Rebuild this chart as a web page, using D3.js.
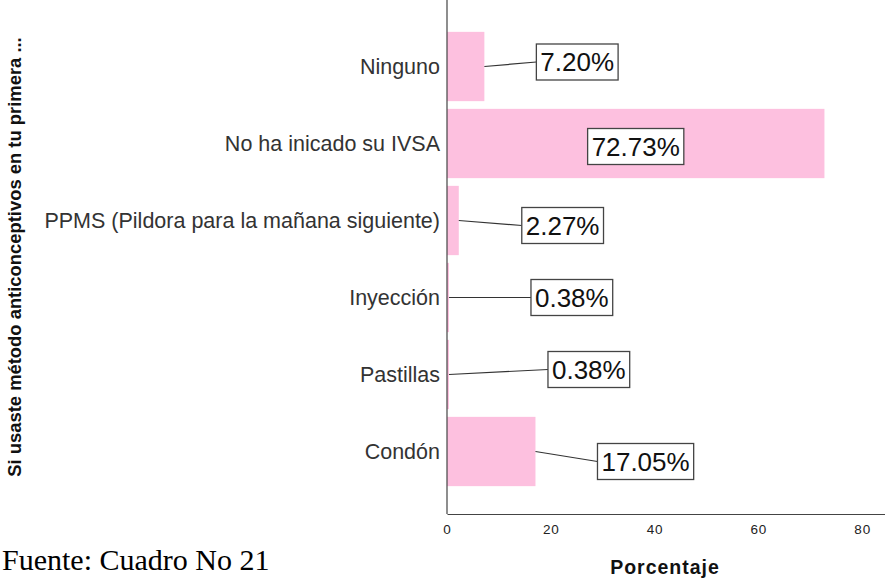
<!DOCTYPE html>
<html>
<head>
<meta charset="utf-8">
<script src="https://cdn.jsdelivr.net/npm/d3@7"></script>
<style>
  html, body { margin: 0; padding: 0; background: #fff; }
  svg { display: block; font-family: "Liberation Sans", Arial, sans-serif; }
</style>
</head>
<body>
<div id="chart"></div>
<script>
// categories and values (percent)
var categories = ['Ninguno', 'No ha inicado su IVSA', 'PPMS (Pildora para la mañana siguiente)', 'Inyección', 'Pastillas', 'Condón'];
var values = [7.20, 72.73, 2.27, 0.38, 0.38, 17.05];
var labels = ['7.20%', '72.73%', '2.27%', '0.38%', '0.38%', '17.05%'];
var xTicks = [0, 20, 40, 60, 80];

// where SPSS dropped each label box: px from bar end, px from band centre
// (null dx = centred inside the bar)
var labelDx = [52, null, 63, 82, 99, 62];
var labelDy = [-4.5, 3, 5, 0, -5, 10];

var width = 885, height = 578;
var axisX = 447, axisY = 514;

var svg = d3.select('#chart').append('svg')
  .attr('width', width)
  .attr('height', height);

var x = d3.scaleLinear().domain([0, 84.4]).range([axisX, width]);
var y = d3.scaleBand().domain(categories).range([28, 490])
  .paddingInner(0.1).paddingOuter(0.05);

// bars
svg.selectAll('rect.bar')
  .data(values)
  .enter()
  .append('rect')
  .attr('class', 'bar')
  .attr('x', x(0))
  .attr('y', function(d, i) { return y(categories[i]); })
  .attr('width', function(d) { return x(d) - x(0); })
  .attr('height', y.bandwidth())
  .attr('fill', '#fdc0df');

// x axis
var xAxis = svg.append('g')
  .attr('transform', 'translate(0,' + axisY + ')')
  .call(d3.axisBottom(x).tickValues(xTicks).tickSize(0).tickPadding(10));
xAxis.select('.domain').attr('stroke', '#444').attr('stroke-width', 1.2);
xAxis.selectAll('text')
  .attr('font-size', 13.5)
  .attr('letter-spacing', 0.8)
  .attr('fill', '#222')
  .attr('font-family', '"Liberation Sans", Arial, sans-serif');

// y axis line
svg.append('line')
  .attr('x1', axisX).attr('x2', axisX)
  .attr('y1', 0).attr('y2', axisY)
  .attr('stroke', '#444')
  .attr('stroke-width', 1.2);

// category labels
svg.selectAll('text.cat')
  .data(categories)
  .enter()
  .append('text')
  .attr('class', 'cat')
  .attr('x', axisX - 7)
  .attr('y', function(d) { return y(d) + y.bandwidth() / 2; })
  .attr('dy', '0.36em')
  .attr('text-anchor', 'end')
  .attr('font-size', 21.5)
  .attr('fill', '#333')
  .text(function(d) { return d; });

// value labels with leader lines
var boxH = 36, pad = 4;
values.forEach(function(v, i) {
  var cy = y(categories[i]) + y.bandwidth() / 2;
  var endX = x(v);
  var g = svg.append('g');
  var t = g.append('text')
    .attr('font-size', 26)
    .attr('fill', '#111')
    .text(labels[i]);
  var tw = t.node().getComputedTextLength();
  var bw = tw + pad * 2;
  var bx = labelDx[i] === null ? (x(0) + endX) / 2 - bw / 2 : endX + labelDx[i];
  var by = cy + labelDy[i];
  if (labelDx[i] !== null) {
    g.insert('line', 'text')
      .attr('x1', endX).attr('y1', cy)
      .attr('x2', bx).attr('y2', by)
      .attr('stroke', '#333')
      .attr('stroke-width', 1.2);
  }
  g.insert('rect', 'text')
    .attr('x', bx).attr('y', by - boxH / 2)
    .attr('width', bw).attr('height', boxH)
    .attr('fill', '#fff')
    .attr('stroke', '#444')
    .attr('stroke-width', 1.3);
  t.attr('x', bx + pad).attr('y', by + 9.3);
});

// axis titles
svg.append('text')
  .attr('x', 665)
  .attr('y', 574)
  .attr('text-anchor', 'middle')
  .attr('font-size', 19.5)
  .attr('font-weight', 'bold')
  .attr('letter-spacing', 1)
  .attr('fill', '#111')
  .text('Porcentaje');

svg.append('text')
  .attr('transform', 'translate(21,257) rotate(-90)')
  .attr('text-anchor', 'middle')
  .attr('font-size', 18.4)
  .attr('font-weight', 'bold')
  .attr('fill', '#111')
  .text('Si usaste método anticonceptivos en tu primera ...');

// source note (reference has it clipped at the bottom edge; kept just inside)
svg.append('text')
  .attr('x', 2)
  .attr('y', 570)
  .attr('font-family', '"Liberation Serif", "Times New Roman", serif')
  .attr('font-size', 30)
  .attr('fill', '#000')
  .text('Fuente: Cuadro No 21');
</script>
</body>
</html>
